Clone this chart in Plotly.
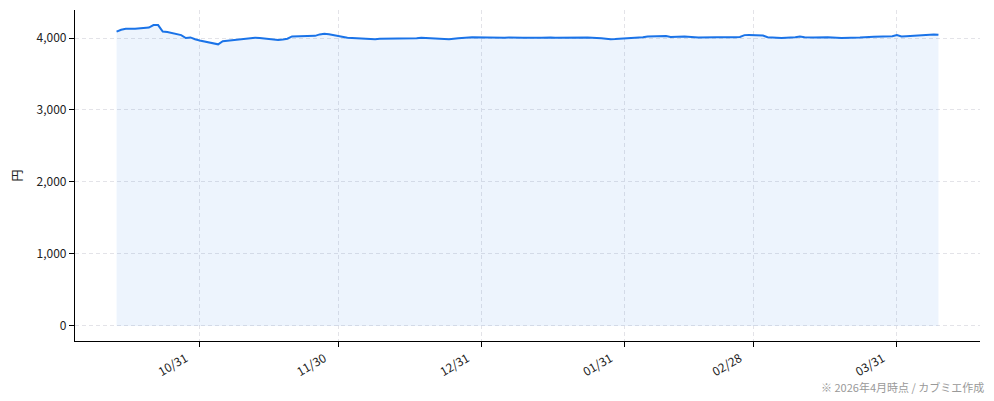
import pandas as pd
import plotly.graph_objects as go

# trading days (weekdays minus JP market holidays)
holidays = ['2025-11-03', '2025-11-24', '2025-12-31', '2026-01-01', '2026-01-02',
            '2026-01-12', '2026-02-11', '2026-02-23', '2026-03-20']
dates = [d for d in pd.bdate_range('2025-10-13', '2026-04-09')
         if d.strftime('%Y-%m-%d') not in holidays]

# price in yen, one row per week
prices = [
    4088, 4115, 4128, 4125, 4130,
    4145, 4180, 4180, 4090, 4082,
    4040, 4000, 4008, 3982, 3965,
    3912, 3955, 3962, 3970,
    3988, 3995, 4004, 4000, 3995,
    3972, 3978, 3990, 4022, 4023,
    4030, 4050, 4060, 4052,
    4012, 4005, 4000, 3996, 3993,
    3982, 3990, 3990, 3992, 3992,
    3994, 3996, 3996, 4004, 4000,
    3996, 3988, 3982, 3990, 3998,
    4010, 4008,
    4004, 4006, 4004, 4005, 4004,
    4004, 4010, 4006, 4004,
    4004, 4000, 4004, 4006, 4008,
    3996, 3988, 3984, 3986, 3990,
    3994, 3998, 4010, 4022, 4024,
    4027, 4015, 4015, 4020,
    4008, 4010, 4012, 4012, 4010,
    4010, 4015, 4040, 4042,
    4035, 4012, 4008, 4005, 4000,
    4012, 4022, 4012, 4006, 4008,
    4010, 4008, 4005, 4000,
    4008, 4015, 4015, 4018, 4022,
    4025, 4040, 4022, 4025, 4030,
    4050, 4055, 4050, 4045,
]

tick_dates = ['2025-10-31', '2025-11-30', '2025-12-31', '2026-01-31', '2026-02-28', '2026-03-31']
tick_labels = ['10/31', '11/30', '12/31', '01/31', '02/28', '03/31']

fig = go.Figure()
fig.add_trace(go.Scatter(
    x=dates, y=prices, mode='lines',
    line=dict(color='#1a73e8', width=2),
    fill='tozeroy', fillcolor='rgba(26,115,232,0.08)',
    hoverinfo='x+y',
))

# page body has an 8px margin, so the figure is sized a little smaller
font = "'Noto Sans CJK JP', 'Noto Sans', sans-serif"
fig.update_layout(
    width=986, height=393,
    margin=dict(l=67, r=14, t=2, b=60),
    plot_bgcolor='white', paper_bgcolor='white',
    font=dict(family=font, size=12, color='#222'),
    showlegend=False,
)
grid = dict(showgrid=True, gridcolor='#e3e3e8', griddash='4px,3px', gridwidth=1,
            showline=True, linecolor='black', linewidth=1.2,
            ticks='outside', ticklen=5, tickcolor='black', zeroline=False)
fig.update_xaxes(
    range=['2025-10-04', '2026-04-18'],
    tickvals=tick_dates, ticktext=tick_labels, tickangle=-30,
    ticklabelshift=-14,
    **grid,
)
fig.update_yaxes(
    range=[-209, 4389],
    tickvals=[0, 1000, 2000, 3000, 4000], tickformat=',',
    title=dict(text='円', standoff=14, font=dict(size=12)),
    **grid,
)
fig.add_annotation(
    text='※ 2026年4月時点 / カブミエ作成', xref='paper', yref='paper',
    x=1.0065, y=-0.11, xanchor='right', yanchor='top', showarrow=False,
    font=dict(size=11, color='#999'),
)

fig.write_html('out.html')
